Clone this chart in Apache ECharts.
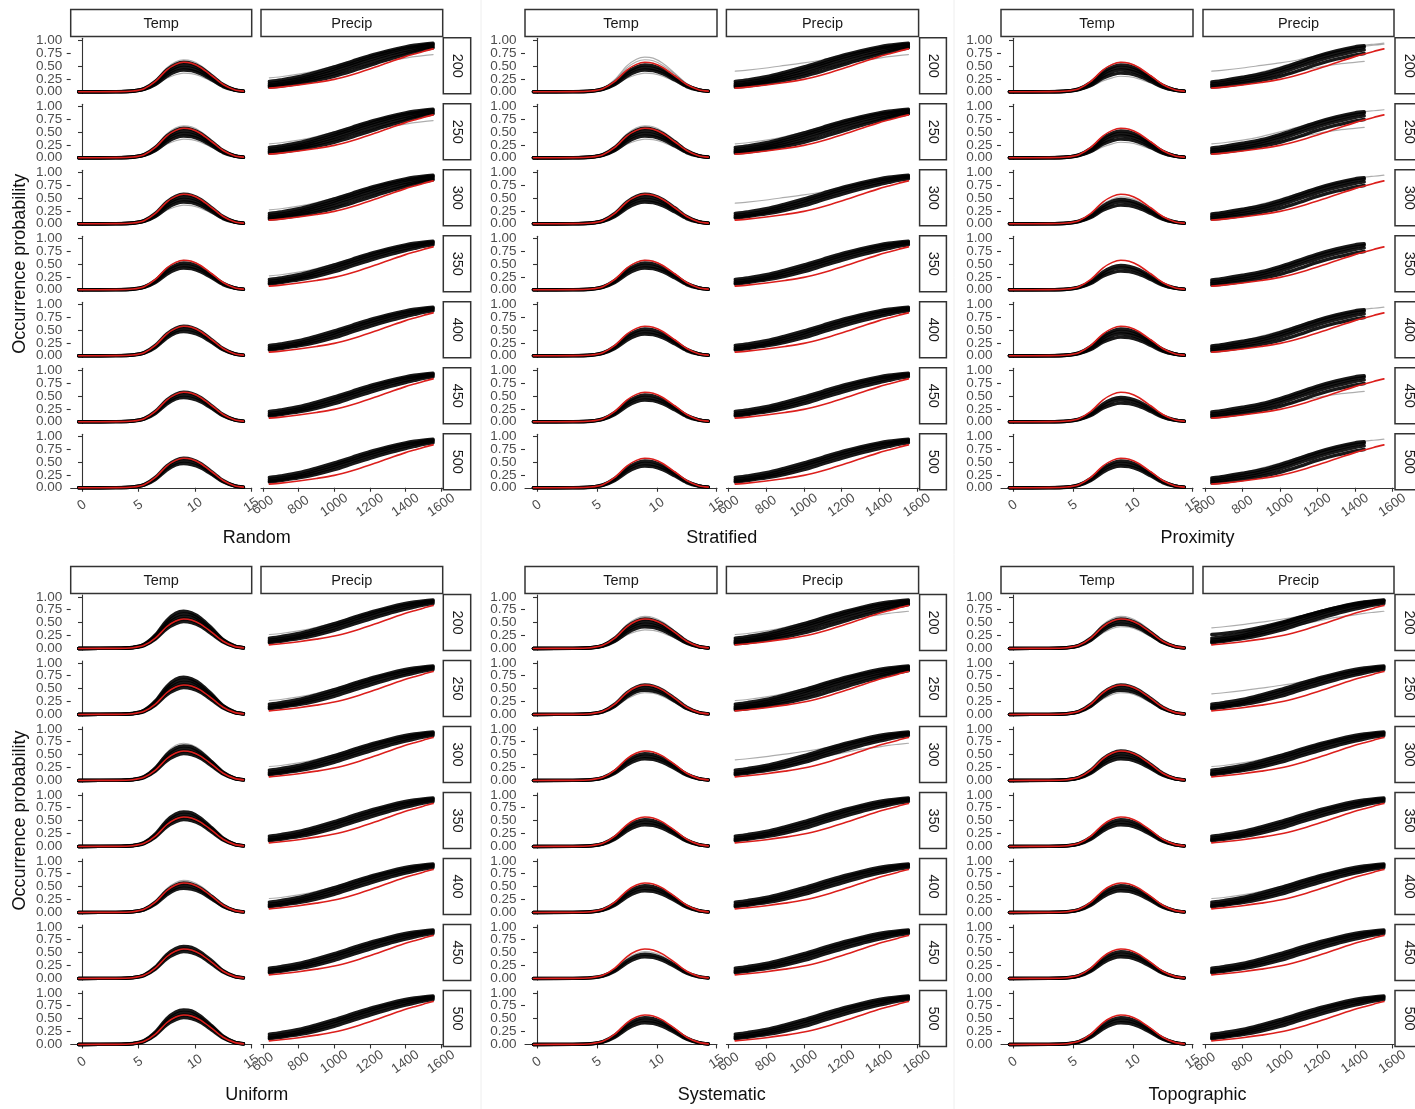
<!DOCTYPE html>
<html>
<head>
<meta charset="utf-8">
<script src="https://cdn.jsdelivr.net/npm/echarts@6/dist/echarts.min.js"></script>
<style>
  html, body { margin: 0; padding: 0; background: #ffffff; }
  #chart { width: 1415px; height: 1109px; }
</style>
</head>
<body>
<div id="chart"></div>
<script>
// ---- labels ----
const METHODS = ['Random', 'Stratified', 'Proximity', 'Uniform', 'Systematic', 'Topographic'];
const ROW_LABELS = ['200', '250', '300', '350', '400', '450', '500'];
const FACETS = ['Temp', 'Precip'];
const TEMP_TICKS = [0, 5, 10, 15];
const PRECIP_TICKS = [600, 800, 1000, 1200, 1400, 1600];
// probability ticks, split in two alternating sets so neighbouring labels never collide
const PROB_TICKS_MAJOR = [0, 0.5, 1];
const PROB_TICKS_MINOR = [0.25, 0.75];
const Y_TITLE = 'Occurrence probability';

// ---- temperature response curves (x = temperature) ----
const TEMP_X = [-0.3, 3, 4.5, 5.5, 6.5, 7.5, 8.3, 9, 9.7, 10.5, 11.5, 12.5, 13.5, 14.3];
const TEMP_RED = [0, 0.002, 0.015, 0.06, 0.20, 0.42, 0.53, 0.57, 0.55, 0.47, 0.31, 0.14, 0.04, 0.012];
const T30 = [0, 0.001, 0.008, 0.03, 0.10, 0.21, 0.27, 0.30, 0.29, 0.25, 0.17, 0.08, 0.025, 0.008];
const T36 = [0, 0.001, 0.010, 0.04, 0.12, 0.26, 0.33, 0.36, 0.35, 0.30, 0.20, 0.09, 0.03, 0.009];
const T42 = [0, 0.001, 0.011, 0.045, 0.14, 0.30, 0.39, 0.42, 0.41, 0.35, 0.23, 0.10, 0.03, 0.01];
const T47 = [0, 0.002, 0.013, 0.05, 0.16, 0.34, 0.44, 0.47, 0.45, 0.39, 0.26, 0.115, 0.035, 0.01];
const T52 = [0, 0.002, 0.014, 0.055, 0.18, 0.38, 0.48, 0.52, 0.50, 0.43, 0.28, 0.125, 0.037, 0.011];
const T57 = [0, 0.002, 0.016, 0.062, 0.20, 0.42, 0.53, 0.57, 0.55, 0.47, 0.31, 0.14, 0.04, 0.012];
const T62 = [0, 0.002, 0.017, 0.068, 0.22, 0.46, 0.58, 0.62, 0.60, 0.51, 0.34, 0.15, 0.044, 0.013];
const T67 = [0, 0.003, 0.019, 0.074, 0.24, 0.50, 0.63, 0.67, 0.65, 0.55, 0.36, 0.16, 0.047, 0.014];
const T72 = [0, 0.003, 0.020, 0.08, 0.26, 0.54, 0.68, 0.72, 0.69, 0.59, 0.39, 0.17, 0.05, 0.015];

// ---- precipitation response curves (x = precipitation) ----
const PRECIP_X = [636, 700, 800, 900, 1000, 1100, 1200, 1300, 1400, 1450, 1500, 1555];
const PRECIP_RED = [0.07, 0.09, 0.13, 0.18, 0.24, 0.33, 0.44, 0.56, 0.68, 0.73, 0.78, 0.83];
const PA = [0.09, 0.11, 0.16, 0.22, 0.30, 0.40, 0.51, 0.62, 0.72, 0.77, 0.81, 0.85];
const PB = [0.11, 0.14, 0.19, 0.26, 0.35, 0.46, 0.57, 0.67, 0.76, 0.80, 0.84, 0.87];
const PC = [0.13, 0.16, 0.22, 0.30, 0.40, 0.51, 0.62, 0.72, 0.80, 0.84, 0.87, 0.90];
const PD = [0.16, 0.19, 0.25, 0.34, 0.44, 0.55, 0.66, 0.76, 0.84, 0.87, 0.90, 0.92];
const PE = [0.20, 0.23, 0.29, 0.38, 0.48, 0.59, 0.70, 0.79, 0.87, 0.90, 0.92, 0.94];
const PF = [0.27, 0.29, 0.34, 0.41, 0.50, 0.60, 0.70, 0.79, 0.86, 0.89, 0.91, 0.93];
const PG = [0.40, 0.42, 0.46, 0.51, 0.56, 0.62, 0.70, 0.78, 0.85, 0.88, 0.90, 0.92];
const PL = [0.12, 0.15, 0.21, 0.28, 0.36, 0.45, 0.53, 0.60, 0.65, 0.68, 0.70, 0.72];
// shorter curves (sampling stops before the wettest sites)
const QA = [0.09, 0.11, 0.16, 0.22, 0.30, 0.41, 0.53, 0.63, 0.71, 0.74, null, null];
const QB = [0.12, 0.15, 0.20, 0.27, 0.36, 0.48, 0.60, 0.70, 0.78, 0.81, null, null];
const QC = [0.15, 0.18, 0.24, 0.31, 0.41, 0.53, 0.65, 0.75, 0.83, 0.86, null, null];
const QD = [0.19, 0.22, 0.28, 0.35, 0.45, 0.57, 0.69, 0.79, 0.87, 0.89, null, null];
const QL = [0.12, 0.14, 0.19, 0.25, 0.32, 0.40, 0.47, 0.53, 0.57, 0.59, null, null];

// ---- which curves appear in each method / sample size ("black | grey") ----
const TEMP_PICKS = [
  ['T42 T47 T52 T57|T36 T62', 'T42 T47 T52 T57|T36 T62', 'T42 T47 T52 T57|T36', 'T42 T47 T52|T57', 'T47 T52 T57|', 'T47 T52 T57|', 'T47 T52 T57|'],
  ['T42 T47 T52|T36 T62 T67', 'T42 T47 T52 T57|T36 T62', 'T42 T47 T52 T57|', 'T42 T47 T52|T57', 'T42 T47 T52|', 'T42 T47 T52|', 'T42 T47 T52|'],
  ['T36 T42 T47 T52|T30 T57', 'T36 T42 T47 T52|T30', 'T36 T42 T47|T52', 'T36 T42 T47|', 'T36 T42 T47 T52|', 'T36 T42 T47|', 'T42 T47 T52|'],
  ['T52 T57 T62 T67 T72|', 'T52 T57 T62 T67 T72|', 'T52 T57 T62 T67|T72', 'T52 T57 T62 T67|', 'T47 T52 T57|T62', 'T52 T57 T62|', 'T52 T57 T62 T67|'],
  ['T42 T47 T52 T57|T36 T62', 'T47 T52 T57|T42', 'T42 T47 T52|T57', 'T42 T47 T52|', 'T42 T47 T52|', 'T42 T47|T52', 'T42 T47 T52|'],
  ['T47 T52 T57|T42 T62', 'T47 T52 T57|T42', 'T42 T47 T52 T57|', 'T42 T47 T52|', 'T42 T47 T52|', 'T42 T47 T52|', 'T42 T47 T52|']
];
const PRECIP_PICKS = [
  ['PA PB PC PD PE|PF PL', 'PA PB PC PD PE|PF PL', 'PA PB PC PD PE|PF', 'PB PC PD PE|PF', 'PB PC PD PE|', 'PB PC PD PE|', 'PB PC PD PE|'],
  ['PA PB PC PD PE|PG PL', 'PA PB PC PD PE|PF', 'PB PC PD PE|PG', 'PB PC PD PE|', 'PB PC PD PE|', 'PB PC PD PE|', 'PB PC PD PE|'],
  ['QA QB QC QD|PG QL PE', 'QA QB QC QD|PF QL', 'QA QB QC QD|PE', 'QA QB QC QD|', 'QA QB QC QD|PE', 'QA QB QC QD|QL', 'QA QB QC QD|PE'],
  ['PB PC PD PE|PF', 'PB PC PD PE|PF', 'PB PC PD PE|PF', 'PB PC PD PE|', 'PB PC PD PE|PF', 'PB PC PD PE|', 'PB PC PD PE|'],
  ['PA PB PC PD PE|PF PL', 'PA PB PC PD PE|PF', 'PB PC PD PE|PG PL', 'PB PC PD PE|', 'PB PC PD PE|', 'PB PC PD PE|', 'PB PC PD PE|'],
  ['PB PC PD PE PF|PG PL', 'PB PC PD PE|PG', 'PB PC PD PE|PF', 'PB PC PD PE|', 'PB PC PD PE|PF', 'PB PC PD PE|', 'PB PC PD PE|']
];

const CURVES = { T30, T36, T42, T47, T52, T57, T62, T67, T72, PA, PB, PC, PD, PE, PF, PG, PL, QA, QB, QC, QD, QL };

// ---- layout ----
const FONT = '"Liberation Sans", Arial, Helvetica, sans-serif';
const COLS = [
  { temp: [70.7, 181], precip: [261, 181.7], strip: [443.3, 27.4] },
  { temp: [525, 192], precip: [726.4, 192.2], strip: [919.6, 26.8] },
  { temp: [1001, 192], precip: [1203, 191], strip: [1395, 27] }
];
const SET_TOP = [38.3, 595];
const HEAD_TOP = [9.5, 566.5];
const HEAD_H = 27;
const ROW_PITCH = 66;
const ROW_H = 55;
const TITLE_Y = [538, 1095];
const AXIS_COLOR = '#333333';
const TICK_TEXT = '#4d4d4d';
const Y_MIN = -0.03, Y_MAX = 1.035;

const grids = [], xAxes = [], yAxes = [], series = [], graphics = [];

function toPairs(xs, ys) {
  return xs.map((x, i) => [x, ys[i] == null ? '-' : ys[i]]);
}

function addLine(gi, yi, data, kind) {
  const styles = {
    grey: { color: 'rgba(0,0,0,0.32)', width: 1.2, z: 2 },
    black: { color: 'rgba(0,0,0,0.9)', width: 3.4, z: 3 },
    red: { color: '#dc1f1c', width: 1.6, z: 5 }
  };
  const st = styles[kind];
  series.push({
    type: 'line', xAxisIndex: gi, yAxisIndex: yi, data,
    smooth: 0.3, showSymbol: false, silent: true, z: st.z,
    lineStyle: { color: st.color, width: st.width, cap: 'round', join: 'round' },
    emphasis: { disabled: true }, animation: false
  });
}

function probAxis(gi, values, showLine, showLabels) {
  return {
    gridIndex: gi, type: 'value', position: 'left', offset: 0, min: Y_MIN, max: Y_MAX,
    axisLine: { show: showLine, lineStyle: { color: AXIS_COLOR, width: 1.1 } },
    axisTick: { show: showLabels, customValues: values, length: 4, lineStyle: { color: AXIS_COLOR, width: 1.1 } },
    axisLabel: { show: showLabels, customValues: values, margin: 8.5, hideOverlap: false,
      showMinLabel: true, showMaxLabel: true,
      formatter: val => Number(val).toFixed(2),
      color: TICK_TEXT, fontSize: 13.5, fontFamily: FONT },
    splitLine: { show: false }
  };
}

function rectEl(x, y, w, h) {
  return { type: 'rect', shape: { x, y, width: w, height: h }, silent: true,
    style: { fill: '#ffffff', stroke: AXIS_COLOR, lineWidth: 1.5 } };
}
function textEl(x, y, text, size, color, rotation) {
  return { type: 'text', x, y, rotation: rotation || 0, silent: true,
    style: { text, fill: color, font: size + 'px ' + FONT, align: 'center', verticalAlign: 'middle' } };
}

METHODS.forEach((method, p) => {
  const c = p % 3, s = Math.floor(p / 3);
  const col = COLS[c];

  // facet headers
  FACETS.forEach((f, v) => {
    const [l, w] = v === 0 ? col.temp : col.precip;
    graphics.push(rectEl(l, HEAD_TOP[s], w, HEAD_H));
    graphics.push(textEl(l + w / 2, HEAD_TOP[s] + HEAD_H / 2 + 0.5, f, 14.5, '#1a1a1a'));
  });

  // method title below the panel
  graphics.push(textEl((col.temp[0] + col.precip[0] + col.precip[1]) / 2, TITLE_Y[s], method, 18, '#111111'));

  ROW_LABELS.forEach((rowLab, k) => {
    const top = SET_TOP[s] + k * ROW_PITCH;
    const last = k === ROW_LABELS.length - 1;

    // sample size strip on the right
    graphics.push(rectEl(col.strip[0], top - 0.5, col.strip[1], ROW_H + 1));
    graphics.push(textEl(col.strip[0] + col.strip[1] / 2, top + ROW_H / 2, rowLab, 14.5, '#1a1a1a', -Math.PI / 2));

    FACETS.forEach((f, v) => {
      const [l, w] = v === 0 ? col.temp : col.precip;
      const gi = grids.length;
      grids.push({ left: l, top, width: w, height: ROW_H, containLabel: false, outerBoundsMode: 'none', show: false });

      const isTemp = v === 0;
      const ticks = isTemp ? TEMP_TICKS : PRECIP_TICKS;
      xAxes.push({
        gridIndex: gi, type: 'value',
        min: isTemp ? -1 : 589, max: isTemp ? 15.03 : 1609,
        axisLine: { show: last, lineStyle: { color: AXIS_COLOR, width: 1.1 } },
        axisTick: { show: last, customValues: ticks, length: 4, lineStyle: { color: AXIS_COLOR, width: 1.1 } },
        axisLabel: { show: last, customValues: ticks, rotate: 35, margin: 16, hideOverlap: false,
          showMinLabel: true, showMaxLabel: true,
          formatter: val => String(val),
          align: 'center', verticalAlign: 'middle',
          color: TICK_TEXT, fontSize: 13.5, fontFamily: FONT },
        splitLine: { show: false }
      });

      const yi = yAxes.length;
      yAxes.push(probAxis(gi, PROB_TICKS_MAJOR, isTemp, isTemp));
      if (isTemp) yAxes.push(probAxis(gi, PROB_TICKS_MINOR, false, true));

      const xs = isTemp ? TEMP_X : PRECIP_X;
      const pick = (isTemp ? TEMP_PICKS : PRECIP_PICKS)[p][k].split('|');
      const black = pick[0].trim().split(/\s+/).filter(Boolean);
      const grey = (pick[1] || '').trim().split(/\s+/).filter(Boolean);
      grey.forEach(key => addLine(gi, yi, toPairs(xs, CURVES[key]), 'grey'));
      black.forEach(key => addLine(gi, yi, toPairs(xs, CURVES[key]), 'black'));
      addLine(gi, yi, toPairs(xs, isTemp ? TEMP_RED : PRECIP_RED), 'red');
    });
  });

  // shared y-axis title on the left-most panels
  if (c === 0) {
    const mid = SET_TOP[s] + (6 * ROW_PITCH + ROW_H) / 2;
    graphics.push(textEl(20, mid, Y_TITLE, 18, '#111111', Math.PI / 2));
  }
});

// faint separators between the panel columns
[481, 954].forEach(x => {
  graphics.push({ type: 'line', silent: true, shape: { x1: x, y1: 0, x2: x, y2: 1109 },
    style: { stroke: '#eeeeee', lineWidth: 1 } });
});

const chart = echarts.init(document.getElementById('chart'), null, { renderer: 'canvas' });
chart.setOption({
  animation: false,
  backgroundColor: '#ffffff',
  grid: grids,
  xAxis: xAxes,
  yAxis: yAxes,
  series,
  graphic: { elements: graphics }
});
</script>
</body>
</html>
